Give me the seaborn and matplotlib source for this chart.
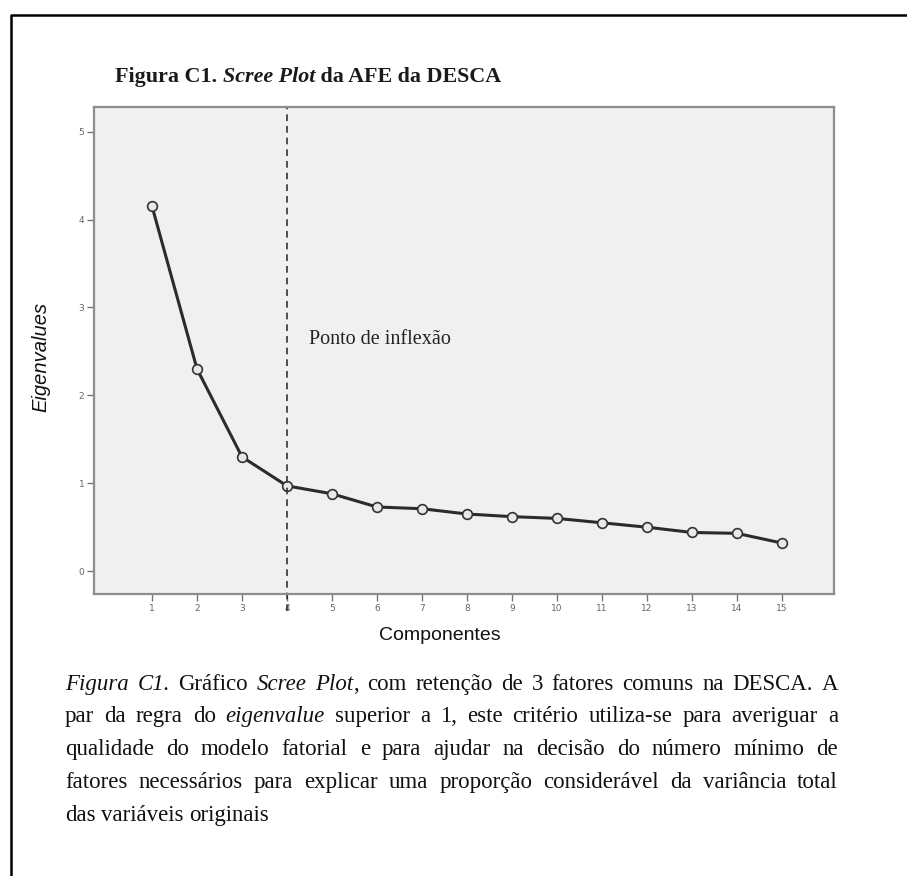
import matplotlib
matplotlib.use("Agg")
import matplotlib.pyplot as plt
import seaborn as sns
import pandas as pd
from matplotlib.lines import Line2D

# ---------------- data ----------------
components = list(range(1, 16))
eigenvalues = [4.15, 2.30, 1.30, 0.97, 0.88, 0.73, 0.71, 0.65, 0.62, 0.60,
               0.55, 0.50, 0.44, 0.43, 0.32]
y_ticks = [0, 1, 2, 3, 4, 5]
inflection_point = 4

title_parts = [("Figura C1. ", "normal"), ("Scree Plot", "italic"), (" da AFE da DESCA", "normal")]
annotation_text = "Ponto de inflexão"
x_label = "Componentes"
y_label = "Eigenvalues"

caption_lines = [
    [[("Figura", "i")], [("C1.", "i")], [("Gráfico", "n")], [("Scree", "i")],
     [("Plot", "i"), (",", "n")], [("com", "n")], [("retenção", "n")], [("de", "n")],
     [("3", "n")], [("fatores", "n")], [("comuns", "n")], [("na", "n")],
     [("DESCA.", "n")], [("A", "n")]],
    [[(w, "i" if w == "eigenvalue" else "n")] for w in
     "par da regra do eigenvalue superior a 1, este critério utiliza-se para averiguar a".split()],
    [[(w, "n")] for w in
     "qualidade do modelo fatorial e para ajudar na decisão do número mínimo de".split()],
    [[(w, "n")] for w in
     "fatores necessários para explicar uma proporção considerável da variância total".split()],
    [[(w, "n")] for w in "das variáveis originais".split()],
]

df = pd.DataFrame({"Componente": components, "Eigenvalue": eigenvalues})

# ---------------- figure ----------------
W, H = 907, 876
sns.set_theme(style="white")
plt.rcParams["font.family"] = ["DejaVu Sans"]
fig = plt.figure(figsize=(W / 100, H / 100), dpi=100)
fig.patch.set_facecolor("white")


def fx(x):
    return x / W


def fy(y):
    return 1 - y / H


# outer page border (left and top visible)
fig.add_artist(Line2D([fx(10.5), fx(10.5), fx(907)], [fy(876), fy(15), fy(15)],
                      transform=fig.transFigure, color="black", lw=1.8))

ax_left, ax_right, ax_top, ax_bottom = 94, 834, 107, 594
ax = fig.add_axes([fx(ax_left), fy(ax_bottom), fx(ax_right - ax_left),
                   (ax_bottom - ax_top) / H])
ax.set_facecolor("#f0f0f0")

sns.lineplot(data=df, x="Componente", y="Eigenvalue", ax=ax, color="#2b2b2b",
             lw=2.2, marker="o", markersize=7, markerfacecolor="#e8e8e8",
             markeredgecolor="#333333", markeredgewidth=1.2)

ax.set_xlim(-0.29, 16.16)
ax.set_ylim(-0.26, 5.28)
ax.set_xticks(components)
ax.set_xticklabels([str(c) for c in components])
ax.set_yticks(y_ticks)
ax.set_yticklabels([str(t) for t in y_ticks])
ax.tick_params(axis="both", direction="out", length=5, width=1.0, color="#777777",
               labelsize=6.5, labelcolor="#666666", pad=2, bottom=True, left=True)
for s in ax.spines.values():
    s.set_color("#8c8c8c")
    s.set_linewidth(1.6)

ax.axvline(inflection_point, ymin=-0.035, ymax=1, color="#333333", lw=1.2,
           dashes=(4, 3), clip_on=False)

ax.text(inflection_point + 0.49, 2.63, annotation_text, family="Liberation Serif",
        fontsize=14.5, color="#222222", ha="left", va="center")

ax.set_xlabel(x_label, family="Liberation Sans", fontsize=14, color="#111111")
ax.xaxis.set_label_coords((440 - ax_left) / (ax_right - ax_left),
                          -(627 - ax_bottom) / (ax_bottom - ax_top))
ax.set_ylabel(y_label, family="Liberation Sans", fontstyle="italic", fontsize=14.5,
              color="#111111", va="center")
ax.yaxis.set_label_coords(-(ax_left - 41) / (ax_right - ax_left), 0.487)

# ---------------- title ----------------
fig.canvas.draw()
renderer = fig.canvas.get_renderer()

x = 115
for txt, st in title_parts:
    t = fig.text(fx(x), fy(82), txt, family="Liberation Serif", fontweight="bold",
                 fontstyle=st, fontsize=15.8, color="#1a1a1a", ha="left",
                 va="baseline")
    bb = t.get_window_extent(renderer)
    x += bb.width

# ---------------- caption (justified) ----------------
cap_x0, cap_x1 = 65, 838
baselines = [690, 722, 755, 788, 821]
cap_size = 16.5

for li, words in enumerate(caption_lines):
    items = []
    widths = []
    for word in words:
        pieces = []
        wsum = 0
        for txt, st in word:
            t = fig.text(0, fy(baselines[li]), txt, family="Liberation Serif",
                         fontstyle="italic" if st == "i" else "normal",
                         fontsize=cap_size, color="#111111", ha="left",
                         va="baseline")
            w = t.get_window_extent(renderer).width
            pieces.append((t, w))
            wsum += w
        items.append(pieces)
        widths.append(wsum)
    justify = li < len(caption_lines) - 1
    if justify and len(items) > 1:
        gap = (cap_x1 - cap_x0 - sum(widths)) / (len(items) - 1)
    else:
        gap = cap_size * 100 / 72 * 0.25
    x = cap_x0
    for pieces, w in zip(items, widths):
        xx = x
        for t, pw in pieces:
            t.set_x(fx(xx))
            xx += pw
        x += w + gap

fig.savefig("out.png", dpi=100, facecolor="white")
